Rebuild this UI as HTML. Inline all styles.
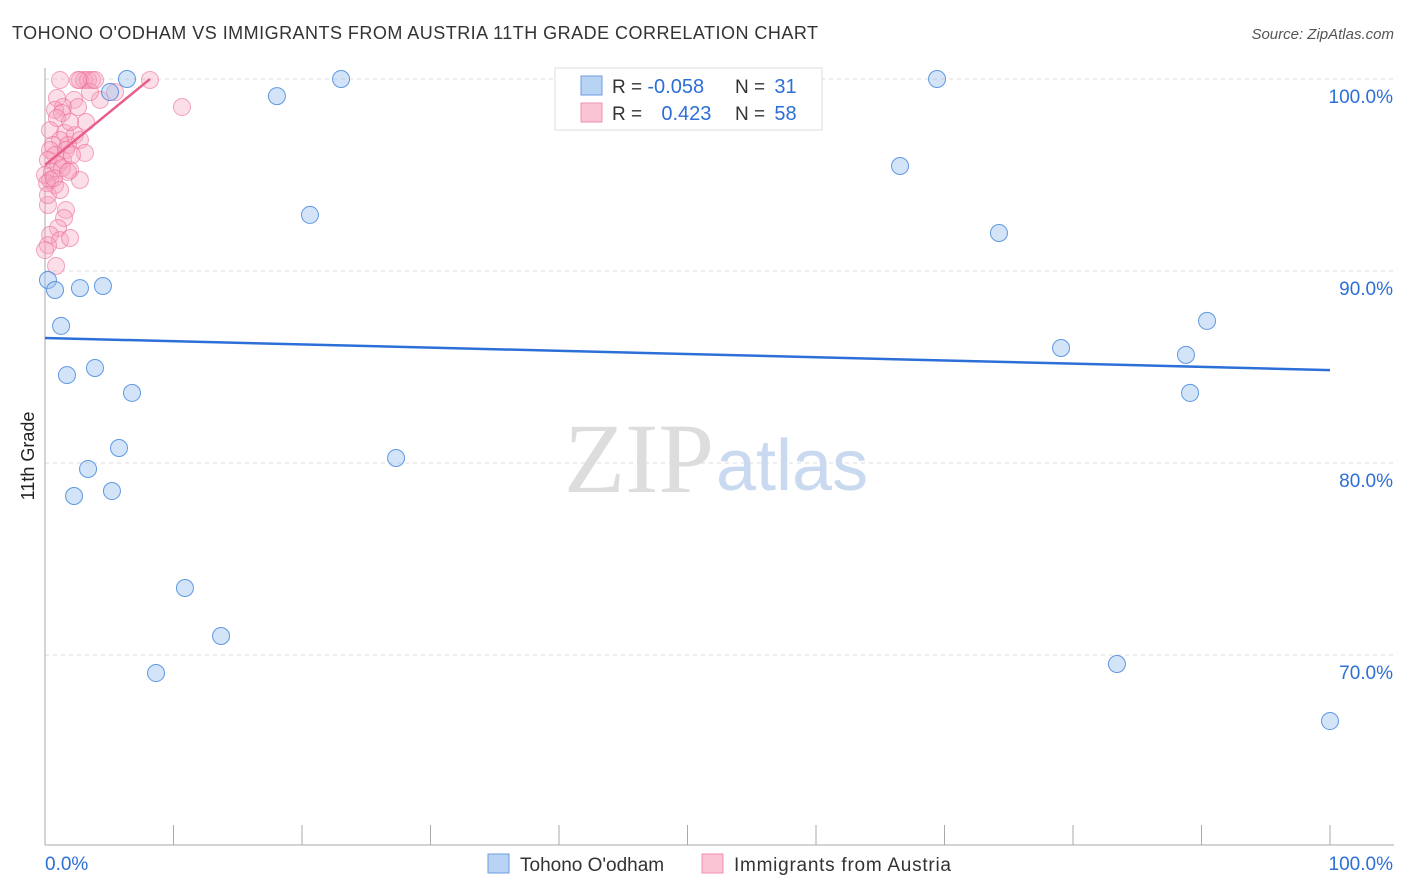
<!DOCTYPE html>
<html><head><meta charset="utf-8"><style>
body{margin:0;background:#fff;font-family:"Liberation Sans",sans-serif}
svg{display:block}
</style></head><body>
<svg id="c" width="1406" height="892">
<text x="12" y="39" font-size="18" fill="#333" textLength="806">TOHONO O'ODHAM VS IMMIGRANTS FROM AUSTRIA 11TH GRADE CORRELATION CHART</text>
<text x="1394" y="39" font-size="15" fill="#555" font-style="italic" text-anchor="end">Source: ZipAtlas.com</text>
<text transform="translate(34,456) rotate(-90)" font-size="18" fill="#222" text-anchor="middle">11th Grade</text>
<g id="grid"></g>
<text x="714" y="492" font-size="100" fill="#ddd" font-family="Liberation Serif,serif" text-anchor="end">ZIP</text>
<text x="716" y="490" font-size="72" fill="#c9d9ef">atlas</text>
<g id="marks"></g>
<g>
<rect x="555" y="68" width="267" height="62" fill="#fff" stroke="#ddd"/>
<rect x="581" y="76" width="21" height="19" fill="#b9d3f5" stroke="#6b9de0"/>
<rect x="581" y="103" width="21" height="19" fill="#fbc4d4" stroke="#f090ae"/>
<text x="612" y="93" font-size="19" fill="#333">R = <tspan fill="#2c6fd6" font-size="20">-0.058</tspan></text>
<text x="735" y="93" font-size="19" fill="#333">N = <tspan fill="#2c6fd6" font-size="20" dx="4">31</tspan></text>
<text x="612" y="120" font-size="19" fill="#333">R = <tspan fill="#2c6fd6" dx="14" font-size="20">0.423</tspan></text>
<text x="735" y="120" font-size="19" fill="#333">N = <tspan fill="#2c6fd6" font-size="20" dx="4">58</tspan></text>
</g>
<g>
<rect x="488" y="854" width="21" height="19" fill="#b9d3f5" stroke="#6b9de0"/>
<text x="520" y="871" font-size="19" fill="#333">Tohono O'odham</text>
<rect x="702" y="854" width="21" height="19" fill="#fbc4d4" stroke="#f090ae"/>
<text x="734" y="871" font-size="19" fill="#333" textLength="217">Immigrants from Austria</text>
</g>
</svg>
<script>
const yTicks=[100,90,80,70];
const xTickLabels=["0.0%","100.0%"];
const blueX=[0.23,0.78,2.72,4.51,1.25,1.71,3.89,6.77,5.76,3.35,2.26,5.21,5.06,6.38,18.05,23.04,20.62,27.32,10.89,13.70,8.64,47.63,69.42,66.54,74.24,79.07,90.43,88.79,89.11,83.42,100];
const blueY=[89.53,89.01,89.11,89.22,87.14,84.58,84.95,83.65,80.78,79.69,78.28,78.54,99.32,100,99.11,100,92.92,80.26,73.49,70.99,69.06,100,100,95.47,91.98,85.99,87.40,85.63,83.65,69.53,66.56];
const pinkX=[1.17,2.72,3.04,3.35,3.66,2.57,8.17,10.66,5.45,0.93,2.26,1.40,2.57,0.78,1.32,3.19,0.93,0.39,1.56,2.33,1.17,2.72,0.62,1.79,0.39,3.11,0.78,1.40,0.23,1.01,1.95,0.54,1.32,0,0.39,2.72,0.78,0.16,0.23,1.63,1.48,1.01,0.39,1.17,1.95,0.23,0.86,0,4.28,3.50,3.89,1.95,1.63,2.10,0.70,1.79,0.23,1.17];
const pinkY=[99.95,99.95,99.95,99.95,99.95,99.95,99.95,98.54,99.32,99.01,98.91,98.54,98.54,98.39,98.23,97.76,97.97,97.34,97.19,97.08,96.82,96.82,96.56,96.56,96.30,96.15,96.04,95.78,95.78,95.52,95.26,95.16,95.36,95.0,94.74,94.74,94.48,94.58,93.44,93.18,92.76,92.24,91.88,91.61,91.72,91.35,90.26,91.09,98.91,99.32,99.95,97.76,96.30,96.04,94.84,95.16,93.96,94.22];
const blueTrend=[[0,86.51],[100,84.84]];
const pinkTrend=[[0,95.52],[8.17,100]];
const X=v=>45+v*12.85, Y=v=>79+(100-v)*19.2;
const NS="http://www.w3.org/2000/svg";
const g=document.getElementById('grid'), m=document.getElementById('marks');
function el(t,a,p){const e=document.createElementNS(NS,t);for(const k in a)e.setAttribute(k,a[k]);p.appendChild(e);return e;}
yTicks.forEach(v=>{
 const l=el('line',{x1:45,x2:1394,y1:Y(v),y2:Y(v),stroke:'#ddd','stroke-dasharray':'4,4'},g);
 
 
 const t=el('text',{x:1393,y:Y(v)+24,'font-size':19,fill:'#2c6fd6','text-anchor':'end'},g);t.textContent=v.toFixed(1)+'%';
 
 
});
el('line',{x1:45,x2:45,y1:68,y2:845,stroke:'#aaa'},g);
el('line',{x1:45,x2:1394,y1:845,y2:845,stroke:'#aaa'},g);
for(let i=0;i<=10;i++){const l=el('line',{x1:X(i*10),x2:X(i*10),y1:825,y2:845,stroke:'#aaa'},g);
 
 }
xTickLabels.forEach((s,i)=>{const t=el('text',{x:i?1393:45,y:870,'font-size':19,fill:'#2c6fd6','text-anchor':i?'end':'start'},g);t.textContent=s;
 
 });
pinkX.forEach((x,i)=>{const c=el('circle',{cx:X(x),cy:Y(pinkY[i]),r:8.5,fill:'rgba(247,160,188,0.35)',stroke:'rgba(235,110,150,0.6)'},m);
 
 });
blueX.forEach((x,i)=>{const c=el('circle',{cx:X(x),cy:Y(blueY[i]),r:8.5,fill:'rgba(160,196,240,0.45)',stroke:'rgba(60,130,220,0.8)'},m);
 
 });
const b=el('line',{x1:X(blueTrend[0][0]),y1:Y(blueTrend[0][1]),x2:X(blueTrend[1][0]),y2:Y(blueTrend[1][1]),stroke:'#2c6fd6','stroke-width':2.5},m);


const p=el('line',{x1:X(pinkTrend[0][0]),y1:Y(pinkTrend[0][1]),x2:X(pinkTrend[1][0]),y2:Y(pinkTrend[1][1]),stroke:'#e8608a','stroke-width':2.5},m);


</script>
</body></html>
